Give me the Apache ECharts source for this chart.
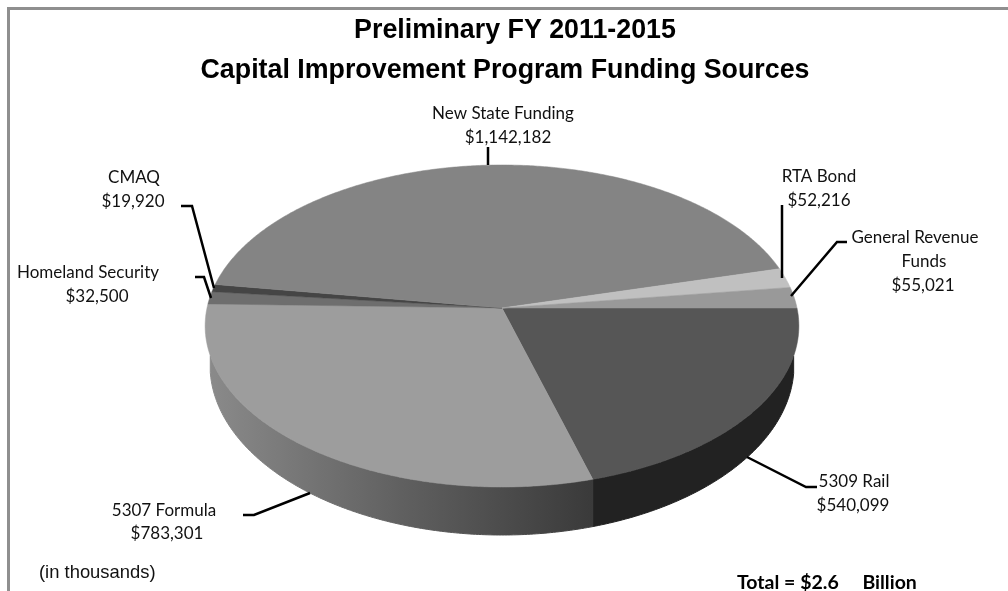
<!DOCTYPE html>
<html>
<head>
<meta charset="utf-8">
<title>Capital Improvement Program Funding Sources</title>
<script src="https://cdn.jsdelivr.net/npm/echarts@6/dist/echarts.min.js"></script>
<style>
  html, body { margin: 0; padding: 0; background: #fff; }
  #main { width: 1008px; height: 591px; }
</style>
</head>
<body>
<div id="main"></div>
<script>
// clockwise from the flat right edge of the pie
var categories = ['5309 Rail', '5307 Formula', 'Homeland Security', 'CMAQ', 'New State Funding', 'RTA Bond', 'General Revenue Funds'];
var values = [540099, 783301, 32500, 19920, 1142182, 52216, 55021];
var totalText = 'Total = $2.6     Billion';
var unitText = '(in thousands)';
var titleLines = ['Preliminary FY 2011-2015', 'Capital Improvement Program Funding Sources'];

var topColors = ['#565656', '#9d9d9d', '#6e6e6e', '#454545', '#848484', '#c0c0c0', '#999999'];

// pie disc seen in perspective, near side (sin > 0) comes out larger
var cx = 502, cy = 308, halfW = 295, halfH = 159, persp = 0.1118;
// bottom edge of the disc, a plain ellipse a bit narrower than the top
var rimCy = 365, rimRx = 292, rimRy = 170;

var total = values.reduce(function (a, b) { return a + b; }, 0);
var angles = [];
values.reduce(function (acc, v) {
    var next = acc + v / total * 360;
    angles.push([acc, next]);
    return next;
}, 0);

function topPoint(deg) {
    var r = deg * Math.PI / 180, s = Math.sin(r), k = 1 - persp * s;
    return [cx + halfW * Math.cos(r) / k, cy + halfH * s / k];
}
function rimPoint(x) {
    var t = (x - cx) / rimRx;
    return [x, rimCy + rimRy * Math.sqrt(Math.max(0, 1 - t * t))];
}

function renderTop(params, api) {
    var i = api.value(0), a = angles[i];
    var pts = [[cx, cy]];
    for (var d = a[0]; d < a[1]; d += 0.5) pts.push(topPoint(d));
    pts.push(topPoint(a[1]));
    return { type: 'polygon', shape: { points: pts }, style: { fill: topColors[i], stroke: topColors[i], lineWidth: 0.5 } };
}

// side wall: only where the top edge lies inside the bottom ellipse's width
function renderRim(params, api) {
    var i = api.value(0), a = angles[i];
    if (a[0] >= 180) return null;
    var end = Math.min(a[1], 180);
    var up = [], low = [];
    for (var d = a[0]; d <= end + 0.5; d += 0.5) {
        var p = topPoint(Math.min(d, end));
        if (Math.abs(p[0] - cx) > rimRx) continue;
        up.push(p);
        low.unshift(rimPoint(p[0]));
    }
    if (!up.length) return null;
    var fill = i === 0 ? '#222222' : new echarts.graphic.LinearGradient(0, 0, 1, 0, [
        { offset: 0, color: '#8a8a8a' },
        { offset: 0.5, color: '#606060' },
        { offset: 1, color: '#3a3a3a' }
    ]);
    return { type: 'polygon', shape: { points: up.concat(low) }, style: { fill: fill, stroke: fill, lineWidth: 1 } };
}

function money(v) { return '$' + v.toLocaleString('en-US'); }

// [text, centre x, centre y]
var labelSpots = [
    [categories[0], 854, 482], [money(values[0]), 853, 506],
    [categories[1], 164, 511], [money(values[1]), 167, 534],
    [categories[2], 88, 273], [money(values[2]), 97, 297],
    [categories[3], 134, 178], [money(values[3]), 133, 202],
    [categories[4], 503, 114], [money(values[4]), 508, 138],
    [categories[5], 819, 177], [money(values[5]), 819, 201],
    ['General Revenue', 915, 238], ['Funds', 924, 262], [money(values[6]), 923, 286]
];
var leaders = [
    [[747, 457], [806, 487], [817, 487]],
    [[243, 515], [254, 515], [310, 493]],
    [[195, 277], [204, 277], [211, 298]],
    [[181, 206], [192, 206], [214, 288]],
    [[488, 147], [488, 165]],
    [[782, 205], [782, 278]],
    [[847, 242], [837, 242], [791, 296]]
];

// frame has no right or bottom side in the reference
var graphics = [{
    type: 'polyline',
    silent: true,
    shape: { points: [[8.5, 600], [8.5, 8.5], [1012, 8.5]] },
    style: { fill: 'none', stroke: '#8f8f8f', lineWidth: 3 }
}];
leaders.forEach(function (pts) {
    graphics.push({ type: 'polyline', z: 5, shape: { points: pts }, style: { fill: 'none', stroke: '#000', lineWidth: 2.5 } });
});
labelSpots.forEach(function (s) {
    graphics.push({ type: 'text', z: 5, x: s[1], y: s[2], style: {
        text: s[0], fill: '#111', font: '17px Lato', align: 'center', verticalAlign: 'middle'
    } });
});
graphics.push({ type: 'text', z: 5, x: 39, y: 573, style: {
    text: unitText, fill: '#111', font: '18.4px "Liberation Sans"', align: 'left', verticalAlign: 'middle'
} });
graphics.push({ type: 'text', z: 5, x: 737, y: 583, style: {
    text: totalText, fill: '#000', font: 'bold 19.5px Lato', align: 'left', verticalAlign: 'middle'
} });

var indexData = categories.map(function (c, i) { return { name: c, value: [i, values[i]] }; });

var titleStyle = { fontFamily: 'Liberation Sans', fontWeight: 'bold', fontSize: 26.8, color: '#000' };

var myChart = echarts.init(document.getElementById('main'));
myChart.setOption({
    animation: false,
    backgroundColor: '#fff',
    title: [
        { text: titleLines[0], left: 510, top: 12, textAlign: 'center', textStyle: titleStyle },
        { text: titleLines[1], left: 500, top: 52, textAlign: 'center', textStyle: titleStyle }
    ],
    graphic: graphics,
    series: [
        { type: 'custom', coordinateSystem: 'none', silent: true, z: 1, renderItem: renderRim, data: indexData },
        { type: 'custom', coordinateSystem: 'none', silent: true, z: 2, renderItem: renderTop, data: indexData }
    ]
});
</script>
</body>
</html>
